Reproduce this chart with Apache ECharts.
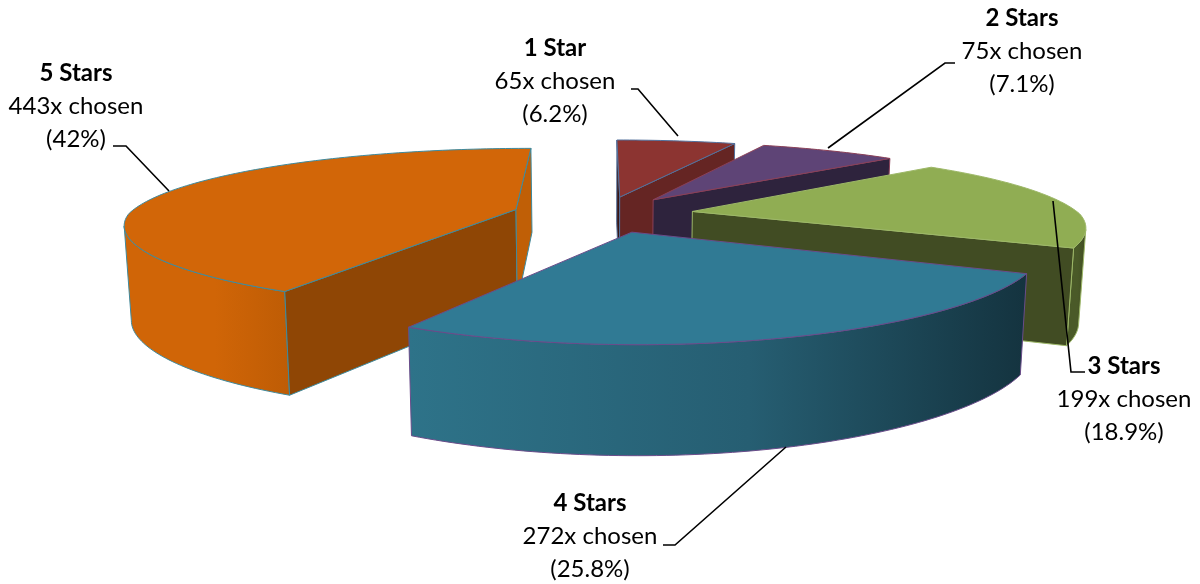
<!DOCTYPE html>
<html><head><meta charset="utf-8">
<style>html,body{margin:0;padding:0;background:#fff}#c{width:1200px;height:584px}</style>
<script src="https://cdn.jsdelivr.net/npm/echarts@6/dist/echarts.min.js"></script>
</head><body><div id="c"></div>
<script>
// ---- data ----
const categories = ['1 Star', '2 Stars', '3 Stars', '4 Stars', '5 Stars'];
const counts = [65, 75, 199, 272, 443];
const shares = ['6.2%', '7.1%', '18.9%', '25.8%', '42%'];

// ---- styles ----
const topColors = ['#8C3431', '#5E4476', '#90AD53', '#307A94', '#D26608'];
const edgeColors = ['#52709C', '#8A4058', '#9DB868', '#6A4C8A', '#3E8A9E'];
const outerLeft = ['#6E2826', '#3A2C4E', '#4A5A28', '#2E7389', '#D06507'];
const outerRight = ['#6E2826', '#3A2C4E', '#404C22', '#14333F', '#BE5C05'];
const endWallColors = ['#652523', '#2E233D', '#414C23', '#14333F', '#C05F06'];
const startWallColors = ['#3A1614', '#2E233D', '#414C23', '#14333F', '#8F4605'];

// ---- 3D view ----
const view = { cx: 603, cy: 214, A: 387, B: 77, pxFront: 0.17, pxBack: 0.21, py: 0.228, depth: 93, k: 0.5, lean: 0.985, explode: 0.235 };
const drawOrder = [0, 1, 2, 4, 3];

// ---- label layout ----
const labelAnchors = [[555, 81], [1022, 51], [1124, 399], [590, 536], [76, 106]];
const leaders = [
  [[631, 89], [638, 89], [678, 136]],
  [[955, 63], [945, 63], [828, 148]],
  [[1085, 372], [1071, 372], [1053, 201]],
  [[663, 545], [675, 545], [786, 447]],
  [[113, 146], [126, 146], [169, 191]]
];

const total = counts.reduce((a, b) => a + b, 0);
const angles = [];
counts.reduce((acc, c) => { angles.push([acc / total * 2 * Math.PI, (acc + c) / total * 2 * Math.PI]); return acc + c; }, 0);

function project(u, v, low) {
  const s = 1 / (1 + view.py * v), sx = 1 / (1 + (v < 0 ? view.pxFront : view.pxBack) * v);
  let x = view.cx + view.A * u * sx, y = view.cy - view.B * v * s;
  if (low) { x = view.cx + (x - view.cx) * view.lean; y += view.depth * (1 + view.k * (s - 1)); }
  return [x, y];
}

function area(p) {
  let t = 0;
  p.forEach((q, j) => { const r = p[(j + 1) % p.length]; t += q[0] * r[1] - r[0] * q[1]; });
  return t;
}

function renderSlice(params, api) {
  const i = api.value(0), [a0, a1] = angles[i], mid = (a0 + a1) / 2;
  const ou = view.explode * Math.sin(mid), ov = view.explode * Math.cos(mid);
  const rim = (a, low) => project(ou + Math.sin(a), ov + Math.cos(a), low);
  const apex = low => project(ou, ov, low);
  const arcTop = [], wallTop = [], wallLow = [];
  const n = Math.max(8, Math.round((a1 - a0) / 0.02));
  for (let j = 0; j <= n; j++) {
    const a = a0 + (a1 - a0) * j / n;
    arcTop.push(rim(a, false));
    // the outer wall shows where the rim runs right-to-left on screen (the near side)
    if (rim(a + 0.005, false)[0] < rim(a - 0.005, false)[0]) { wallTop.push(rim(a, false)); wallLow.push(rim(a, true)); }
  }
  const line = { stroke: edgeColors[i], lineWidth: 1 };
  const poly = (points, fill) => ({ type: 'polygon', shape: { points }, style: Object.assign({ fill }, line), silent: true });
  const children = [];
  if (wallTop.length > 1) {
    children.push(poly(wallTop.concat(wallLow.slice().reverse()), { type: 'linear', x: 0, y: 0, x2: 1, y2: 0, colorStops: [{ offset: 0, color: outerLeft[i] }, { offset: 0.55, color: i === 3 ? '#265E72' : outerLeft[i] }, { offset: 1, color: outerRight[i] }] }));
  }
  const startWall = [apex(false), rim(a0, false), rim(a0, true), apex(true)];
  const endWall = [apex(false), rim(a1, false), rim(a1, true), apex(true)];
  if (area(startWall) < 0) children.push(poly(startWall, startWallColors[i]));
  if (area(endWall) > 0) children.push(poly(endWall, endWallColors[i]));
  children.push(poly([apex(false)].concat(arcTop), topColors[i]));
  return { type: 'group', children };
}

function renderLabel(params, api) {
  const i = api.value(0), [x, y] = labelAnchors[i];
  return {
    type: 'group',
    children: [
      { type: 'polyline', shape: { points: leaders[i] }, style: { stroke: '#000', lineWidth: 1.6, fill: null }, silent: true },
      { type: 'text', x, y, silent: true, style: {
        text: '{b|' + categories[i] + '}\n{n|' + counts[i] + 'x chosen}\n{n|(' + shares[i] + ')}',
        align: 'center', verticalAlign: 'middle',
        rich: { b: { fontFamily: 'Lato', fontWeight: 'bold', fontSize: 24, lineHeight: 33, fill: '#000', align: 'center' },
                n: { fontFamily: 'Lato', fontSize: 24, lineHeight: 33, fill: '#000', align: 'center' } }
      } }
    ]
  };
}

const chart = echarts.init(document.getElementById('c'), null, { renderer: 'canvas' });
chart.setOption({
  animation: false,
  backgroundColor: '#fff',
  series: [
    { type: 'custom', coordinateSystem: 'none', renderItem: renderSlice, data: drawOrder.map(i => [i]), z: 2, silent: true },
    { type: 'custom', coordinateSystem: 'none', renderItem: renderLabel, data: categories.map((c, i) => [i]), z: 3, silent: true }
  ]
});
</script></body></html>
